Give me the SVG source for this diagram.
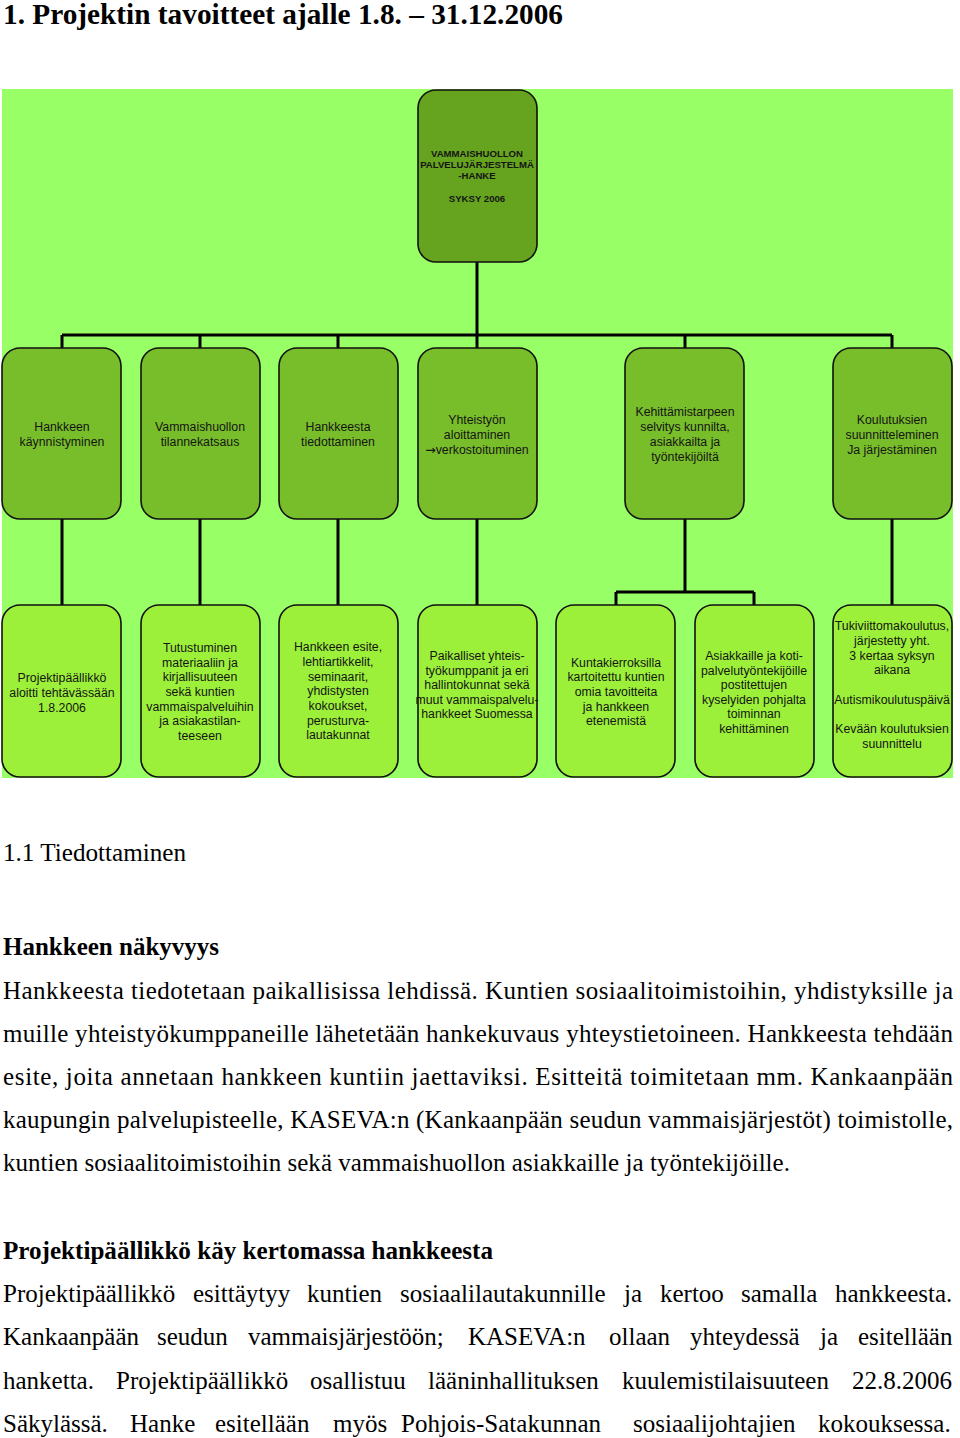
<svg xmlns="http://www.w3.org/2000/svg" width="960" height="1438" viewBox="0 0 960 1438">
<style>
.bg{fill:#99ff66}
.top{fill:#66a31e;stroke:#111;stroke-width:1.6}
.r1{fill:#78bd2a;stroke:#111;stroke-width:1.6}
.r2{fill:#9cf03a;stroke:#111;stroke-width:1.6}
.lbl{font-family:"Liberation Sans",Arial,sans-serif;font-size:12.3px;fill:#151515;text-anchor:middle}
.tl{font-family:"Liberation Sans",Arial,sans-serif;font-size:9.6px;font-weight:bold;fill:#151515;text-anchor:middle}
.arr{font-family:"DejaVu Sans",sans-serif}
.con{stroke:#000;stroke-width:3;fill:none}
.h1{font-family:"Liberation Serif","Times New Roman",serif;font-size:29px;font-weight:bold;fill:#000}
.h2{font-family:"Liberation Serif","Times New Roman",serif;font-size:25px;fill:#000}
.h3{font-family:"Liberation Serif","Times New Roman",serif;font-size:25px;font-weight:bold;fill:#000}
.p{font-family:"Liberation Serif","Times New Roman",serif;font-size:25px;fill:#000}
</style>
<rect width="960" height="1438" fill="#fff"/>
<text class="h1" x="3" y="24" textLength="560" lengthAdjust="spacingAndGlyphs">1. Projektin tavoitteet ajalle 1.8. – 31.12.2006</text>
<rect class="bg" x="2" y="89" width="951" height="689"/>
<g id="connectors">
<path class="con" d="M477 262V335M62 335H892M62 335V348M200 335V348M338 335V348M477 335V348M685 335V348M892 335V348"/>
<path class="con" d="M62 519V605M200 519V605M338 519V605M477 519V605M892 519V605M685 519V592M616 592H754M616 592V605M754 592V605"/>
</g>
<g id="n0"><rect class="top" x="418" y="90" width="119" height="172" rx="18"/>
<text class="tl" x="477" y="157">VAMMAISHUOLLON</text><text class="tl" x="477" y="168">PALVELUJÄRJESTELMÄ</text><text class="tl" x="477" y="179">-HANKE</text><text class="tl" x="477" y="202">SYKSY 2006</text></g>
<g id="n1"><rect class="r1" x="2" y="348" width="119" height="171" rx="18"/>
<text class="lbl" x="62" y="431">Hankkeen</text><text class="lbl" x="62" y="446">käynnistyminen</text></g>
<g id="n2"><rect class="r1" x="141" y="348" width="119" height="171" rx="18"/>
<text class="lbl" x="200" y="431">Vammaishuollon</text><text class="lbl" x="200" y="446">tilannekatsaus</text></g>
<g id="n3"><rect class="r1" x="279" y="348" width="119" height="171" rx="18"/>
<text class="lbl" x="338" y="431">Hankkeesta</text><text class="lbl" x="338" y="446">tiedottaminen</text></g>
<g id="n4"><rect class="r1" x="418" y="348" width="119" height="171" rx="18"/>
<text class="lbl" x="477" y="424">Yhteistyön</text><text class="lbl" x="477" y="439">aloittaminen</text><text class="lbl" x="477" y="454"><tspan class="arr">→</tspan>verkostoituminen</text></g>
<g id="n5"><rect class="r1" x="625" y="348" width="119" height="171" rx="18"/>
<text class="lbl" x="685" y="416">Kehittämistarpeen</text><text class="lbl" x="685" y="431">selvitys kunnilta,</text><text class="lbl" x="685" y="446">asiakkailta ja</text><text class="lbl" x="685" y="461">työntekijöiltä</text></g>
<g id="n6"><rect class="r1" x="833" y="348" width="119" height="171" rx="18"/>
<text class="lbl" x="892" y="424">Koulutuksien</text><text class="lbl" x="892" y="439">suunnitteleminen</text><text class="lbl" x="892" y="454">Ja järjestäminen</text></g>
<g id="m1"><rect class="r2" x="2" y="605" width="119" height="172" rx="18"/>
<text class="lbl" x="62" y="682">Projektipäällikkö</text><text class="lbl" x="62" y="697">aloitti tehtävässään</text><text class="lbl" x="62" y="712">1.8.2006</text></g>
<g id="m2"><rect class="r2" x="141" y="605" width="119" height="172" rx="18"/>
<text class="lbl" x="200" y="652">Tutustuminen</text><text class="lbl" x="200" y="667">materiaaliin ja</text><text class="lbl" x="200" y="681">kirjallisuuteen</text><text class="lbl" x="200" y="696">sekä kuntien</text><text class="lbl" x="200" y="711">vammaispalveluihin</text><text class="lbl" x="200" y="725">ja asiakastilan-</text><text class="lbl" x="200" y="740">teeseen</text></g>
<g id="m3"><rect class="r2" x="279" y="605" width="119" height="172" rx="18"/>
<text class="lbl" x="338" y="651">Hankkeen esite,</text><text class="lbl" x="338" y="666">lehtiartikkelit,</text><text class="lbl" x="338" y="681">seminaarit,</text><text class="lbl" x="338" y="695">yhdistysten</text><text class="lbl" x="338" y="710">kokoukset,</text><text class="lbl" x="338" y="725">perusturva-</text><text class="lbl" x="338" y="739">lautakunnat</text></g>
<g id="m4"><rect class="r2" x="418" y="605" width="119" height="172" rx="18"/>
<text class="lbl" x="477" y="660">Paikalliset yhteis-</text><text class="lbl" x="477" y="675">työkumppanit ja eri</text><text class="lbl" x="477" y="689">hallintokunnat sekä</text><text class="lbl" x="477" y="704">muut vammaispalvelu-</text><text class="lbl" x="477" y="718">hankkeet Suomessa</text></g>
<g id="m5"><rect class="r2" x="556" y="605" width="119" height="172" rx="18"/>
<text class="lbl" x="616" y="667">Kuntakierroksilla</text><text class="lbl" x="616" y="681">kartoitettu kuntien</text><text class="lbl" x="616" y="696">omia tavoitteita</text><text class="lbl" x="616" y="711">ja hankkeen</text><text class="lbl" x="616" y="725">etenemistä</text></g>
<g id="m6"><rect class="r2" x="695" y="605" width="119" height="172" rx="18"/>
<text class="lbl" x="754" y="660">Asiakkaille ja koti-</text><text class="lbl" x="754" y="675">palvelutyöntekijöille</text><text class="lbl" x="754" y="689">postitettujen</text><text class="lbl" x="754" y="704">kyselyiden pohjalta</text><text class="lbl" x="754" y="718">toiminnan</text><text class="lbl" x="754" y="733">kehittäminen</text></g>
<g id="m7"><rect class="r2" x="833" y="605" width="119" height="172" rx="18"/>
<text class="lbl" x="892" y="630">Tukiviittomakoulutus,</text><text class="lbl" x="892" y="645">järjestetty yht.</text><text class="lbl" x="892" y="660">3 kertaa syksyn</text><text class="lbl" x="892" y="674">aikana</text><text class="lbl" x="892" y="704">Autismikoulutuspäivä</text><text class="lbl" x="892" y="733">Kevään koulutuksien</text><text class="lbl" x="892" y="748">suunnittelu</text></g>
<text class="h2" x="3" y="861" textLength="183" lengthAdjust="spacingAndGlyphs">1.1 Tiedottaminen</text>
<text class="h3" x="3" y="955" textLength="216" lengthAdjust="spacingAndGlyphs">Hankkeen näkyvyys</text>
<text class="p" x="3" y="999" textLength="950" lengthAdjust="spacing">Hankkeesta tiedotetaan paikallisissa lehdissä. Kuntien sosiaalitoimistoihin, yhdistyksille ja</text>
<text class="p" x="3" y="1042" textLength="950" lengthAdjust="spacing">muille yhteistyökumppaneille lähetetään hankekuvaus yhteystietoineen. Hankkeesta tehdään</text>
<text class="p" x="3" y="1085" textLength="950" lengthAdjust="spacing">esite, joita annetaan hankkeen kuntiin jaettaviksi. Esitteitä toimitetaan mm. Kankaanpään</text>
<text class="p" x="3" y="1128" textLength="950" lengthAdjust="spacing">kaupungin palvelupisteelle, KASEVA:n (Kankaanpään seudun vammaisjärjestöt) toimistolle,</text>
<text class="p" x="3" y="1171" textLength="787" lengthAdjust="spacing">kuntien sosiaalitoimistoihin sekä vammaishuollon asiakkaille ja työntekijöille.</text>
<text class="h3" x="3" y="1259" textLength="490" lengthAdjust="spacingAndGlyphs">Projektipäällikkö käy kertomassa hankkeesta</text>
<text class="p" y="1302"><tspan x="3">Projektipäällikkö</tspan><tspan x="193">esittäytyy</tspan><tspan x="307">kuntien</tspan><tspan x="400">sosiaalilautakunnille</tspan><tspan x="624">ja</tspan><tspan x="660">kertoo</tspan><tspan x="741">samalla</tspan><tspan x="835">hankkeesta.</tspan></text>
<text class="p" y="1345"><tspan x="3">Kankaanpään</tspan><tspan x="157">seudun</tspan><tspan x="248">vammaisjärjestöön;</tspan><tspan x="468">KASEVA:n</tspan><tspan x="609">ollaan</tspan><tspan x="690">yhteydessä</tspan><tspan x="820">ja</tspan><tspan x="858">esitellään</tspan></text>
<text class="p" y="1389"><tspan x="3">hanketta.</tspan><tspan x="116">Projektipäällikkö</tspan><tspan x="310">osallistuu</tspan><tspan x="428">lääninhallituksen</tspan><tspan x="622">kuulemistilaisuuteen</tspan><tspan x="852">22.8.2006</tspan></text>
<text class="p" y="1432"><tspan x="3">Säkylässä.</tspan><tspan x="130">Hanke</tspan><tspan x="215">esitellään</tspan><tspan x="333">myös</tspan><tspan x="401">Pohjois-Satakunnan</tspan><tspan x="633">sosiaalijohtajien</tspan><tspan x="818">kokouksessa.</tspan></text>
</svg>
